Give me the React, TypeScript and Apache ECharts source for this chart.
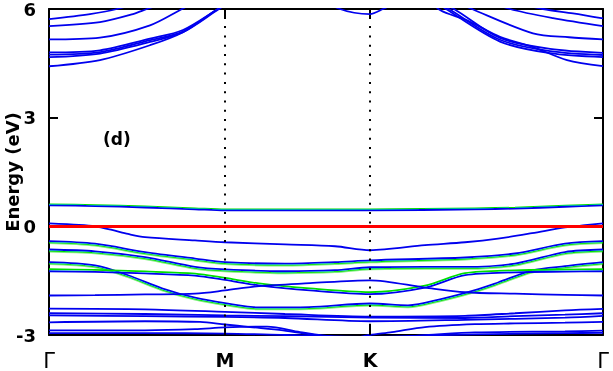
import React, { useEffect, useRef } from "react";
import * as echarts from "echarts";

// k-path positions (arbitrary path-length units) and labels
const kTicks = [0, 176, 321, 554];
const kLabels = ["Γ", "M", "K", "Γ"];
const eTicks = [-3, 0, 3, 6];

// conduction bands (above 6 eV they leave the window)
const cb1 = [[0, 5.72], [41, 5.86], [68, 6.0], [110, 6.35], [176, 6.9], [321, 7.2], [440, 6.35], [494, 6.0], [524, 5.88], [554, 5.74]];
const cb2 = [[0, 5.53], [51, 5.64], [84, 5.86], [98, 6.0], [140, 6.4], [176, 6.8], [321, 7.1], [420, 6.4], [461, 6.0], [504, 5.75], [554, 5.53]];
const cb3 = [[0, 5.16], [51, 5.21], [101, 5.55], [133, 6.0], [176, 6.6], [321, 7.0], [390, 6.4], [423, 6.0], [484, 5.33], [520, 5.22], [554, 5.16]];
const cb4 = [[0, 4.8], [51, 4.86], [101, 5.18], [134, 5.42], [169, 6.0], [200, 6.5], [321, 6.9], [370, 6.5], [405, 6.0], [451, 5.2], [501, 4.9], [554, 4.79]];
const cb5 = [[0, 4.74], [51, 4.81], [101, 5.14], [134, 5.38], [169, 6.0], [200, 6.5], [321, 6.9], [370, 6.5], [400, 6.0], [451, 5.15], [501, 4.84], [554, 4.73]];
const cb6 = [[0, 4.67], [51, 4.77], [101, 5.09], [134, 5.36], [170, 6.0], [200, 6.5], [321, 6.9], [370, 6.5], [397, 6.0], [451, 5.1], [501, 4.78], [554, 4.67]];
const cb7 = [[0, 4.42], [51, 4.59], [101, 5.0], [134, 5.36], [169, 6.0], [200, 6.5], [321, 6.9], [370, 6.5], [391, 5.97], [418, 5.69], [451, 5.23], [484, 4.95], [518, 4.59], [554, 4.42]];
const cbK = [[250, 6.6], [291, 6.0], [321, 5.86], [334, 6.0], [380, 6.6]];

// valence bands
const bandA = [[0, 0.58], [46, 0.56], [96, 0.52], [146, 0.47], [176, 0.44], [236, 0.44], [286, 0.44], [321, 0.44], [426, 0.47], [466, 0.49], [516, 0.54], [554, 0.58]];
const bandB = [[0, 0.08], [30, 0.04], [46, 0.0], [63, -0.1], [79, -0.21], [96, -0.3], [146, -0.39], [176, -0.44], [236, -0.5], [286, -0.55], [321, -0.66], [376, -0.52], [416, -0.44], [449, -0.34], [483, -0.19], [516, -0.03], [536, 0.03], [554, 0.08]];
const bandC = [[0, -0.41], [46, -0.48], [96, -0.71], [146, -0.89], [176, -0.99], [236, -1.03], [286, -0.99], [321, -0.94], [416, -0.86], [466, -0.75], [516, -0.48], [554, -0.41]];
const bandD = [[0, -0.64], [46, -0.69], [96, -0.85], [146, -1.12], [176, -1.19], [236, -1.24], [286, -1.21], [321, -1.13], [376, -1.12], [416, -1.12], [466, -1.03], [516, -0.71], [554, -0.64]];
const bandE = [[0, -0.99], [46, -1.08], [79, -1.35], [113, -1.71], [146, -1.97], [176, -2.12], [210, -2.24], [260, -2.23], [321, -2.13], [359, -2.18], [393, -2.0], [426, -1.76], [449, -1.55], [483, -1.22], [516, -1.1], [554, -0.99]];
const bandF = [[0, -1.24], [46, -1.26], [96, -1.3], [146, -1.36], [176, -1.48], [210, -1.63], [261, -1.77], [321, -1.87], [376, -1.69], [416, -1.35], [466, -1.27], [516, -1.25], [554, -1.24]];
const bandG = [[0, -1.91], [46, -1.9], [96, -1.88], [146, -1.86], [176, -1.77], [210, -1.65], [261, -1.57], [321, -1.49], [376, -1.69], [416, -1.82], [466, -1.86], [516, -1.89], [554, -1.91]];
const bandH1 = [[0, -2.27], [96, -2.29], [176, -2.36], [236, -2.42], [321, -2.49], [416, -2.47], [466, -2.4], [516, -2.32], [554, -2.28]];
const bandH2 = [[0, -2.4], [96, -2.42], [176, -2.46], [236, -2.48], [321, -2.52], [416, -2.53], [466, -2.48], [516, -2.44], [554, -2.4]];
const bandH3 = [[0, -2.46], [96, -2.48], [176, -2.5], [236, -2.53], [321, -2.62], [416, -2.58], [516, -2.52], [554, -2.47]];
const bandI = [[0, -2.65], [96, -2.62], [151, -2.64], [176, -2.71], [201, -2.78], [234, -2.87], [268, -3.01], [300, -3.1], [321, -3.0], [343, -2.92], [376, -2.78], [426, -2.7], [466, -2.68], [516, -2.66], [554, -2.64]];
const bandJ1 = [[0, -2.87], [96, -2.87], [146, -2.84], [176, -2.79], [218, -2.77], [251, -2.92], [285, -3.05], [321, -3.1], [380, -3.0], [426, -2.93], [516, -2.9], [554, -2.88]];
const bandJ2 = [[0, -2.95], [96, -2.95], [176, -2.96], [236, -3.0], [321, -3.05], [426, -2.98], [516, -2.95], [554, -2.94]];

const BLUE = "#0000ee";
const GREEN = "#00dd00";

const bands: { data: number[][]; shadow?: number }[] = [
  { data: cb1 }, { data: cb2 }, { data: cb3 }, { data: cb4 }, { data: cb5 }, { data: cb6 }, { data: cb7 }, { data: cbK },
  { data: bandA, shadow: -1 }, { data: bandB }, { data: bandC, shadow: 1.5 }, { data: bandD, shadow: 1.5 },
  { data: bandE, shadow: 1.5 }, { data: bandF, shadow: -2 }, { data: bandG },
  { data: bandH1 }, { data: bandH2 }, { data: bandH3 }, { data: bandI }, { data: bandJ1 }, { data: bandJ2 },
];

export default function App() {
  const ref = useRef<HTMLDivElement>(null);
  useEffect(() => {
    if (!ref.current) return;
    const chart = echarts.init(ref.current, null, { renderer: "svg" });
    const font = "DejaVu Sans";
    const labelMap: Record<number, string> = {};
    kTicks.forEach((k, i) => (labelMap[k] = kLabels[i]));

    const series: any[] = [
      {
        type: "line",
        data: [],
        z: 1,
        silent: true,
        markLine: {
          silent: true,
          symbol: "none",
          label: { show: false },
          animation: false,
          data: [
            { yAxis: 0, lineStyle: { color: "#ff0000", width: 3, type: "solid" } },
            { xAxis: kTicks[1], lineStyle: { color: "#000", width: 2, type: [2, 7.3] } },
            { xAxis: kTicks[2], lineStyle: { color: "#000", width: 2, type: [2, 7.3] } },
          ],
        },
      },
    ];
    bands.forEach((b) => {
      const ls: any = { color: BLUE, width: 1.8 };
      if (b.shadow) {
        ls.shadowColor = GREEN;
        ls.shadowOffsetY = b.shadow;
        ls.shadowBlur = 0.5;
      }
      series.push({
        type: "line",
        data: b.data,
        showSymbol: false,
        symbol: "none",
        smooth: 0.3,
        z: 2,
        silent: true,
        clip: true,
        lineStyle: ls,
      });
    });

    chart.setOption({
      animation: false,
      textStyle: { fontFamily: font },
      title: {
        text: "(d)",
        left: 98,
        top: 125,
        textStyle: { fontFamily: font, fontSize: 17, fontWeight: "bold", color: "#000" },
      },
      grid: { left: 49, right: 10, top: 9, bottom: 36, outerBoundsMode: "none", containLabel: false },
      xAxis: [
        {
          type: "value",
          min: 0,
          max: 554,
          position: "bottom",
          axisLine: { show: true, onZero: false, lineStyle: { color: "#000", width: 2 } },
          axisTick: { show: true, inside: true, length: 10, customValues: [kTicks[1], kTicks[2]], lineStyle: { color: "#000", width: 2 } },
          axisLabel: {
            show: true,
            customValues: kTicks,
            margin: 15,
            formatter: (v: number) => {
              const s = labelMap[Math.round(v)] ?? "";
              return s === "Γ" ? "{g|Γ}" : "{b|" + s + "}";
            },
            rich: {
              g: { fontFamily: font, fontSize: 21, fontWeight: "normal", color: "#000" },
              b: { fontFamily: font, fontSize: 19, fontWeight: "bold", color: "#000" },
            },
          },
          splitLine: { show: false },
        },
        {
          type: "value",
          min: 0,
          max: 554,
          position: "top",
          axisLine: { show: true, onZero: false, lineStyle: { color: "#000", width: 2 } },
          axisTick: { show: true, inside: true, length: 10, customValues: [kTicks[1], kTicks[2]], lineStyle: { color: "#000", width: 2 } },
          axisLabel: { show: false },
          splitLine: { show: false },
        },
      ],
      yAxis: [
        {
          type: "value",
          min: -3,
          max: 6,
          interval: 3,
          position: "left",
          name: "Energy (eV)",
          nameLocation: "middle",
          nameGap: 28,
          nameMoveOverlap: false,
          nameTextStyle: { fontFamily: font, fontSize: 18, fontWeight: "bold", color: "#000" },
          axisLine: { show: true, onZero: false, lineStyle: { color: "#000", width: 2 } },
          axisTick: { show: true, inside: true, length: 9, lineStyle: { color: "#000", width: 2 } },
          axisLabel: { fontFamily: font, fontSize: 18, fontWeight: "bold", color: "#000", margin: 13, customValues: eTicks },
          splitLine: { show: false },
        },
        {
          type: "value",
          min: -3,
          max: 6,
          interval: 3,
          position: "right",
          axisLine: { show: true, onZero: false, lineStyle: { color: "#000", width: 2 } },
          axisTick: { show: true, inside: true, length: 9, lineStyle: { color: "#000", width: 2 } },
          axisLabel: { show: false },
          splitLine: { show: false },
        },
      ],
      series,
    });
    return () => chart.dispose();
  }, []);
  return <div ref={ref} style={{ position: "fixed", left: 0, top: 0, width: 613, height: 371 }} />;
}
